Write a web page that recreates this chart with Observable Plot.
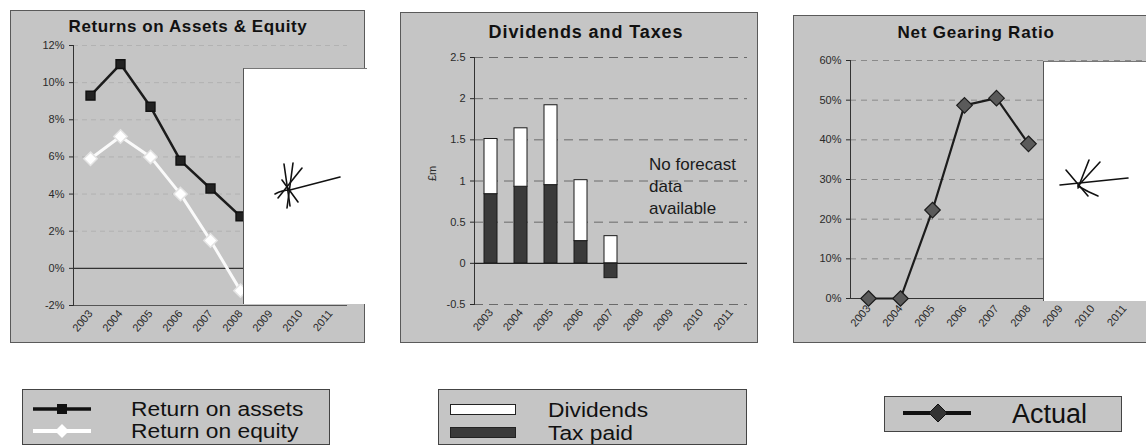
<!DOCTYPE html>
<html>
<head>
<meta charset="utf-8">
<script src="https://cdn.jsdelivr.net/npm/d3@7"></script>
<script src="https://cdn.jsdelivr.net/npm/@observablehq/plot@0.6"></script>
<style>
  html, body { margin: 0; padding: 0; background: #fff; }
  #page { position: relative; width: 1146px; height: 445px; overflow: hidden; font-family: "Liberation Sans", Arial, sans-serif; }
  .panel { position: absolute; background: #c5c5c5; border: 1px solid #5a5a5a; box-sizing: border-box; }
  .title { position: absolute; font-weight: bold; color: #111; text-align: center; white-space: nowrap; transform: translateX(-50%); }
  .chart { position: absolute; }
  .white { position: absolute; background: #fff; }
  .legend { position: absolute; background: #c5c5c5; border: 1px solid #444; box-sizing: border-box; }
  .ltext { position: absolute; color: #111; white-space: nowrap; line-height: 1; transform-origin: 0 50%; transform: translateY(-50%) scaleX(1.14); }
  svg.deco { position: absolute; overflow: visible; }
</style>
</head>
<body>
<div id="page"></div>
<script>
// ---------- data ----------
const years = ["2003", "2004", "2005", "2006", "2007", "2008", "2009", "2010", "2011"];
// Returns on Assets & Equity (%)
const returnOnAssets = [9.3, 11.0, 8.7, 5.8, 4.3, 2.8, null, null, null];
const returnOnEquity = [5.9, 7.1, 6.0, 4.0, 1.5, -1.2, null, null, null];
const returnTicks = [-2, 0, 2, 4, 6, 8, 10, 12];
// Dividends and Taxes (£m)
const taxPaid = [0.84, 0.93, 0.95, 0.27, -0.18, null, null, null, null];
const dividends = [0.67, 0.71, 0.97, 0.74, 0.33, null, null, null, null];
const dividendTicks = [-0.5, 0, 0.5, 1, 1.5, 2, 2.5];
// Net Gearing Ratio (%)
const netGearing = [0, 0, 22.3, 48.7, 50.5, 39.0, null, null, null];
const gearingTicks = [0, 10, 20, 30, 40, 50, 60];

// ---------- helpers ----------
const page = document.getElementById("page");
function el(tag, cls, css, html) {
  const e = document.createElement(tag);
  if (cls) e.className = cls;
  Object.assign(e.style, css || {});
  if (html != null) e.innerHTML = html;
  page.appendChild(e);
  return e;
}
function place(svg, left, top) {
  const d = el("div", "chart", {left: left + "px", top: top + "px"});
  d.appendChild(svg);
}
const baseStyle = {background: "transparent", fontFamily: "Liberation Sans, Arial, sans-serif", fontSize: "11px", color: "#2a2a2a", overflow: "visible"};
const toRows = (vals, key) => years.map((yr, i) => ({year: yr, value: vals[i], series: key})).filter(d => d.value != null);

// ---------- panels & titles ----------
el("div", "panel", {left: "10px", top: "10px", width: "355px", height: "333px"});
el("div", "panel", {left: "400px", top: "12px", width: "358px", height: "331px"});
el("div", "panel", {left: "793px", top: "15px", width: "360px", height: "328px"});
el("div", "title", {left: "188px", top: "17px", fontSize: "17px", letterSpacing: "0.6px"}, "Returns on Assets &amp; Equity");
el("div", "title", {left: "586px", top: "22px", fontSize: "18px", letterSpacing: "0.9px"}, "Dividends and Taxes");
el("div", "title", {left: "976px", top: "23px", fontSize: "17px", letterSpacing: "0.8px"}, "Net Gearing Ratio");

// ---------- chart 1 ----------
const roa = toRows(returnOnAssets, "Return on assets");
const roe = toRows(returnOnEquity, "Return on equity");
place(Plot.plot({
  width: 355, height: 303, marginLeft: 63, marginRight: 18, marginTop: 5, marginBottom: 38,
  style: baseStyle,
  x: {type: "point", domain: years, padding: 0.5, label: null, tickRotate: -50, tickSize: 0, tickPadding: 6},
  y: {domain: [-2, 12], ticks: returnTicks, tickFormat: d => d + "%", label: null, tickSize: 4},
  marks: [
    Plot.ruleY(returnTicks.filter(t => t !== 0 && t !== -2), {stroke: "#b2b2b2", strokeDasharray: "5,4"}),
    Plot.ruleY([0], {stroke: "#333", strokeWidth: 1.2}),
    Plot.ruleY([-2], {stroke: "#555"}),
    Plot.frame({anchor: "left", stroke: "#333"}),
    Plot.line(roa, {x: "year", y: "value", stroke: "#1c1c1c", strokeWidth: 2.5}),
    Plot.dot(roa, {x: "year", y: "value", symbol: "square", r: 5, fill: "#222", stroke: "#111"}),
    Plot.line(roe, {x: "year", y: "value", stroke: "#fafafa", strokeWidth: 3}),
    Plot.dot(roe, {x: "year", y: "value", symbol: "diamond2", r: 6, fill: "#fff", stroke: "#e4e4e4"})
  ]
}), 10, 40);

// ---------- chart 2 ----------
const stackRows = toRows(taxPaid, "Tax paid").concat(toRows(dividends, "Dividends"));
place(Plot.plot({
  width: 358, height: 295, marginLeft: 74, marginRight: 11, marginTop: 9, marginBottom: 39,
  style: baseStyle,
  x: {type: "band", domain: years, padding: 0.1, label: null, tickRotate: -50, tickSize: 0, tickPadding: 6},
  y: {domain: [-0.5, 2.5], ticks: dividendTicks, tickFormat: d => String(d), label: null, tickSize: 4},
  marks: [
    Plot.ruleY(dividendTicks.filter(t => t !== 0), {stroke: "#6a6a6a", strokeDasharray: "9,6"}),
    Plot.frame({anchor: "left", stroke: "#333"}),
    Plot.barY(stackRows, Plot.stackY({
      x: "year", y: "value", z: "series",
      fill: d => d.series === "Tax paid" ? "#3a3a3a" : "#ffffff",
      stroke: "#1a1a1a", strokeWidth: 1, insetLeft: 7, insetRight: 7
    })),
    Plot.ruleY([0], {stroke: "#222", strokeWidth: 1.2}),
    Plot.text(["£m"], {frameAnchor: "left", dx: -42, rotate: -90, fontSize: 11, fill: "#2a2a2a"}),
    Plot.text(["No forecast\ndata\navailable"], {x: () => "2008", y: () => 0.95, dx: 8, textAnchor: "start", fontSize: 17, lineHeight: 1.3, fill: "#1a1a1a"})
  ]
}), 400, 48);

// ---------- chart 3 ----------
const gearing = toRows(netGearing, "Actual");
place(Plot.plot({
  width: 353, height: 293, marginLeft: 57, marginRight: 4, marginTop: 10, marginBottom: 45,
  style: baseStyle,
  x: {type: "point", domain: years, padding: 0.5, label: null, tickRotate: -50, tickSize: 0, tickPadding: 8},
  y: {domain: [0, 60], ticks: gearingTicks, tickFormat: d => d + "%", label: null, tickSize: 4},
  marks: [
    Plot.ruleY(gearingTicks.filter(t => t !== 0), {stroke: "#8a8a8a", strokeDasharray: "6,5"}),
    Plot.ruleY([0], {stroke: "#333", strokeWidth: 1.2}),
    Plot.frame({anchor: "left", stroke: "#333"}),
    Plot.line(gearing, {x: "year", y: "value", stroke: "#1c1c1c", strokeWidth: 2.2}),
    Plot.dot(gearing, {x: "year", y: "value", symbol: "diamond2", r: 7, fill: "#5a5a5a", stroke: "#1c1c1c", strokeWidth: 1.2})
  ]
}), 793, 50);

// ---------- white cover sheets with hand-drawn marks ----------
el("div", "white", {left: "243px", top: "68px", width: "123px", height: "235px", borderLeft: "1px solid #555", borderTop: "1px solid #777"});
el("div", "white", {left: "1043px", top: "61px", width: "103px", height: "239px", borderLeft: "1px solid #555", borderTop: "1px solid #777"});
const scribble = (left, top, paths) => {
  const d = el("div", null, {position: "absolute", left: left + "px", top: top + "px"});
  d.innerHTML = '<svg class="deco" width="80" height="60" style="position:absolute;left:0;top:0">' +
    paths.map(p => '<path d="' + p + '" fill="none" stroke="#111" stroke-width="1.6" stroke-linecap="round"/>').join("") + '</svg>';
};
scribble(272, 160, ["M12 4 L18 46", "M21 3 L15 48", "M30 8 L6 38", "M3 34 Q10 30 18 30 L68 17", "M10 20 L26 42"]);
scribble(1058, 158, ["M2 27 L70 20", "M8 12 L30 38", "M31 2 L20 30", "M42 4 L20 28", "M20 28 Q30 34 40 38"]);

// ---------- legends ----------
el("div", "legend", {left: "22px", top: "389px", width: "308px", height: "56px"});
el("div", "legend", {left: "438px", top: "389px", width: "309px", height: "56px"});
el("div", "legend", {left: "884px", top: "396px", width: "238px", height: "36px"});
const legendSvg = (left, top, w, h, inner) => {
  const d = el("div", null, {position: "absolute", left: left + "px", top: top + "px"});
  d.innerHTML = '<svg class="deco" width="' + w + '" height="' + h + '" style="position:absolute;left:0;top:0">' + inner + '</svg>';
};
legendSvg(33, 400, 60, 40,
  '<line x1="0" y1="9" x2="58" y2="9" stroke="#111" stroke-width="3.5"/><rect x="24" y="4" width="10" height="10" fill="#111"/>' +
  '<line x1="0" y1="31" x2="58" y2="31" stroke="#fff" stroke-width="4"/><path d="M29 24 L36 31 L29 38 L22 31 Z" fill="#fff"/>');
legendSvg(450, 400, 70, 40,
  '<rect x="0.5" y="4.5" width="65" height="10" fill="#fff" stroke="#222"/>' +
  '<rect x="0.5" y="27.5" width="65" height="10" fill="#3a3a3a" stroke="#222"/>');
legendSvg(903, 402, 72, 24,
  '<line x1="0" y1="11" x2="68" y2="11" stroke="#111" stroke-width="4"/><path d="M35 2 L44 11 L35 20 L26 11 Z" fill="#333" stroke="#111"/>');
el("div", "ltext", {left: "131px", top: "409px", fontSize: "20px"}, "Return on assets");
el("div", "ltext", {left: "131px", top: "431px", fontSize: "20px"}, "Return on equity");
el("div", "ltext", {left: "548px", top: "410px", fontSize: "20px"}, "Dividends");
el("div", "ltext", {left: "548px", top: "433px", fontSize: "20px"}, "Tax paid");
el("div", "ltext", {left: "1012px", top: "414px", fontSize: "27px", transform: "translateY(-50%)"}, "Actual");
</script>
</body>
</html>
